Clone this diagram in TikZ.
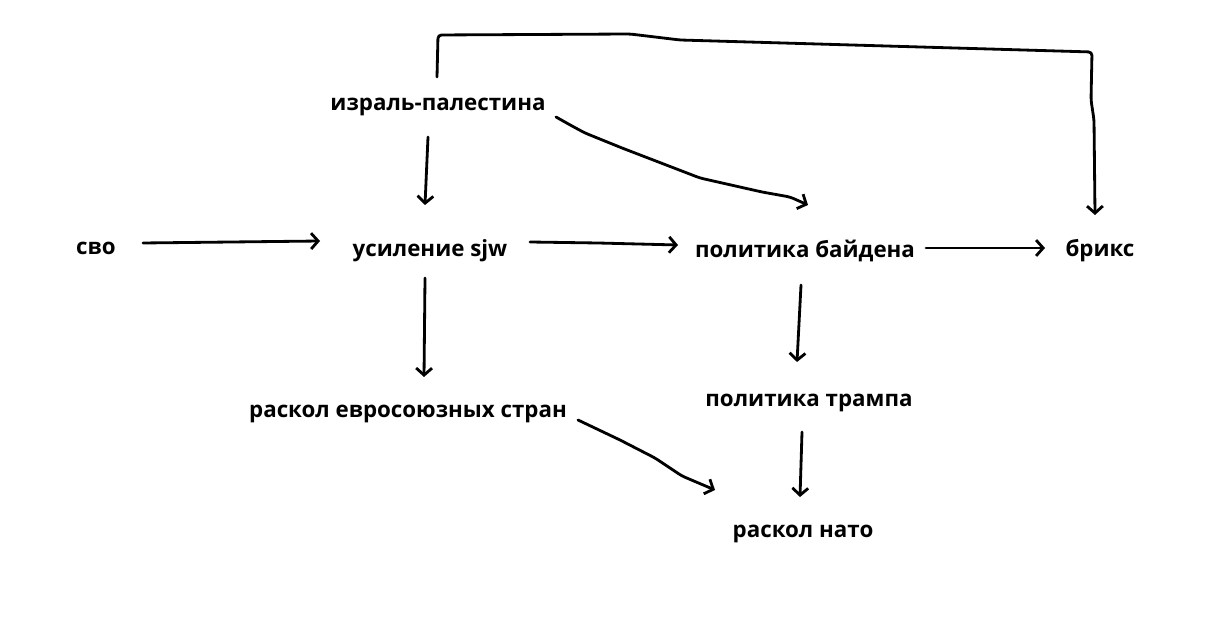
\documentclass[tikz,border=0pt]{standalone}
\usepackage{fontspec}
\setmainfont{Open Sans}
\usetikzlibrary{arrows.meta,calc}

\begin{document}
\begin{tikzpicture}[x=0.02cm,y=-0.02cm,
  lbl/.style={font=\bfseries\fontsize{12.7}{15}\selectfont,inner sep=0pt},
  arr/.style={draw,line width=1.6pt,line join=round,line cap=round,rounded corners=2pt,
    -{Straight Barb[length=4pt,width=9pt,line width=1.6pt]}}]
\useasboundingbox[fill=white] (0,0) rectangle (1212,617);

\node[lbl] (svo) at (96,248) {сво};
\node[lbl] (sjw) at (430,251) {усиление sjw};
\node[lbl] (bid) at (805,251) {политика байдена};
\node[lbl] (brk) at (1100,251) {брикс};
\node[lbl] (isr) at (438,107) {израль-палестина};
\node[lbl] (eu) at (408,414) {раскол евросоюзных стран};
\node[lbl] (tr) at (809,403) {политика трампа};
\node[lbl] (nato) at (803,534) {раскол нато};

\path[arr] ($(svo)+(47,-5)$) -- ($(sjw)+(-110,-10)$);
\path[arr] ($(sjw)+(100,-9)$) -- (598,243) -- ($(bid)+(-127,-6)$);
\path[arr] ($(bid)+(121,-3)$) -- ($(brk)+(-55,-3)$);
\path[arr] ($(isr)+(-10,30)$) -- ($(sjw)+(-5,-46)$);
\path[arr] ($(isr)+(118,10)$) -- (572,126) -- (585,133) -- (622,148) -- (700,178) -- (762,192) -- (790,197) -- ($(bid)+(3,-46)$);
\path[arr] ($(isr)+(-1,-30)$) -- (438,35) -- (630,34) -- (680,40) -- (1092,52) -- (1091,100) -- (1094,120) -- ($(brk)+(-5,-36)$);
\path[arr] ($(sjw)+(-5,27)$) -- ($(eu)+(16,-37)$);
\path[arr] ($(bid)+(-4,34)$) -- ($(tr)+(-12,-41)$);
\path[arr] ($(eu)+(170,6)$) -- (620,440) -- (655,458) -- (682,476) -- ($(nato)+(-88,-44)$);
\path[arr] ($(tr)+(-7,29)$) -- ($(nato)+(-3,-37)$);
\end{tikzpicture}
\end{document}
